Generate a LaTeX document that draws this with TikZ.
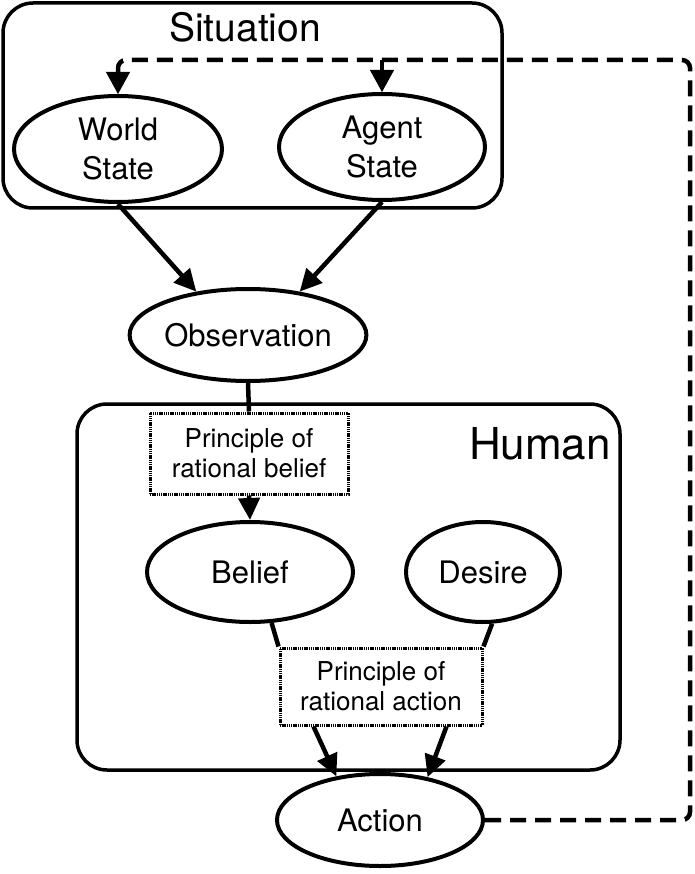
\documentclass[tikz,border=0pt]{standalone}
\usepackage{fontspec}
\setmainfont{TeX Gyre Heros}
\usetikzlibrary{arrows.meta,shapes.geometric}
\begin{document}
\begin{tikzpicture}[x=1pt,y=-1pt,
  ell/.style={draw, ellipse, line width=4pt, inner sep=0pt, align=center,
    font=\fontsize{31}{39}\selectfont},
  grp/.style={draw, rectangle, rounded corners=30pt, line width=3.5pt, inner sep=0pt},
  prin/.style={draw, rectangle, line width=3pt, dash pattern=on 1.4pt off 0.8pt,
    inner sep=0pt, align=center, font=\fontsize{26}{30}\selectfont},
  conn/.style={line width=4.5pt},
  arr/.style={line width=4.5pt, -{Triangle[length=22pt,width=21pt]}},
  fb/.style={line width=4.5pt, dash pattern=on 16pt off 9pt, rounded corners=8pt},
  fbtip/.style={line width=1pt, -{Triangle[length=22pt,width=24pt]}}
]
\useasboundingbox (0,0) rectangle (694,874);

% group boxes
\node[grp, minimum width=499pt, minimum height=205pt] (situation) at (252.5,105.5) {};
\node[font=\fontsize{39}{42}\selectfont] (sitlabel) at (245,27) {Situation};
\node[grp, minimum width=543pt, minimum height=366pt] (human) at (348.5,587) {};
\node[font=\fontsize{44}{48}\selectfont] (humlabel) at (540,444) {Human};

% ellipses
\node[ell, minimum width=208pt, minimum height=106pt] (world) at (118,149) {World\\State};
\node[ell, minimum width=206pt, minimum height=106pt] (agent) at (382,147) {Agent\\State};
\node[ell, minimum width=208pt, minimum height=92pt] (obs) at (248,335) {Observation};
\node[ell, minimum width=206pt, minimum height=100pt] (belief) at (250,572) {Belief};
\node[ell, minimum width=154pt, minimum height=100pt] (desire) at (483,572) {Desire};
\node[ell, minimum width=206pt, minimum height=92pt] (action) at (380,820) {Action};

% principle boxes
\node[prin, fill=white, minimum width=198pt, minimum height=81pt] (pb) at (249,453.5) {Principle of\\rational belief};
\node[prin, fill=white, minimum width=202pt, minimum height=77pt] (pa) at (381,686.5) {Principle of\\rational action};

% connectors
\draw[arr] (world.south) -- (obs.140);
\draw[arr] (agent.south) -- (obs.40);
\draw[conn] (obs.south) -- (pb.north);
\draw[arr] (pb.south) -- (belief.north);
\draw[conn] (belief.-67) -- (pa.north west);
\draw[conn] (desire.-80) -- (pa.north east);
\draw[arr] ([xshift=35pt]pa.south west) -- (action.135);
\draw[arr] ([xshift=-37pt]pa.south east) -- (action.42);

% feedback
\coordinate (cr) at (690,60);
\draw[fb] (action.east) -- (action.east -| cr) -- (cr) -- (world.north |- cr) -- ([yshift=18pt]world.north);
\draw[fb] (agent.north |- cr) -- ([yshift=18pt]agent.north);
\draw[fbtip] ([yshift=23pt]world.north) -- (world.north);
\draw[fbtip] ([yshift=23pt]agent.north) -- (agent.north);
\end{tikzpicture}
\end{document}
